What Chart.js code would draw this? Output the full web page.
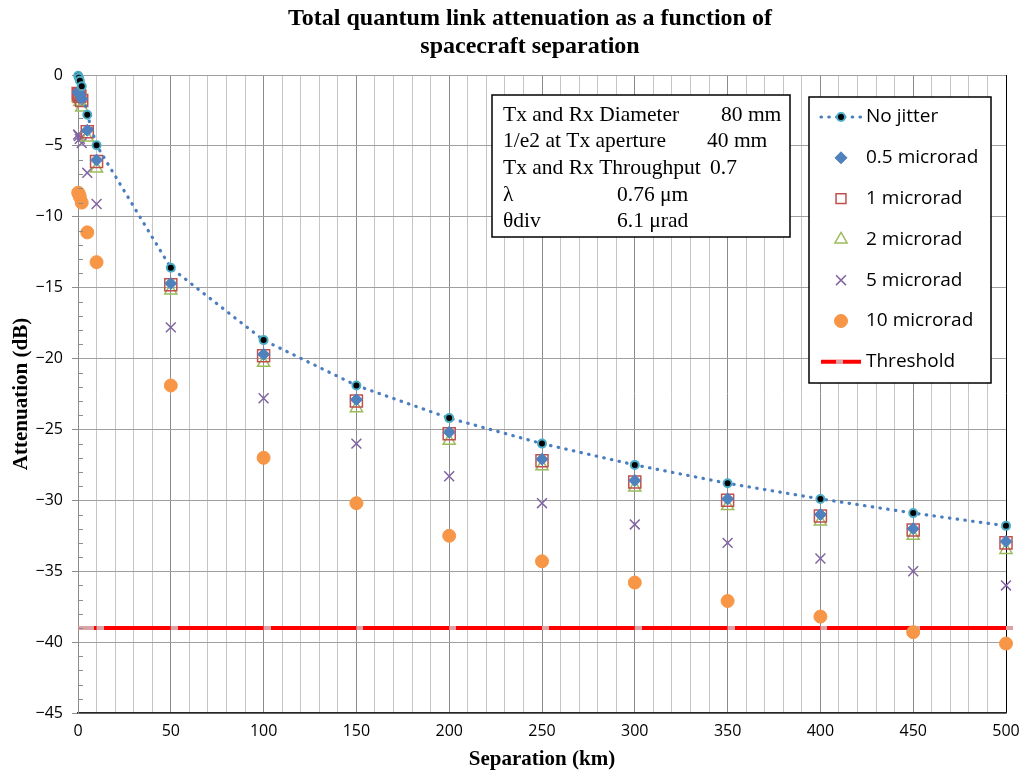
<!DOCTYPE html>
<html lang="en">
<head>
    <meta charset="UTF-8">
    <title>Total quantum link attenuation</title>
    <script src="https://cdn.jsdelivr.net/npm/chart.js"></script>
    <style>
        html, body { margin: 0; padding: 0; background: #fff; }
        .chart-wrap { width: 1020px; height: 772px; }
    </style>
</head>
<body>
    <div class="chart-wrap"><canvas id="attenuationChart" width="1020" height="772"></canvas></div>

    <script>
        // Separation (km) of each sample, and attenuation (dB) for each jitter level
        const separationKm = [0.1, 0.5, 1, 2, 5, 10, 50, 100, 150, 200, 250, 300, 350, 400, 450, 500];
        const noJitter   = [-0.05, -0.2, -0.4, -0.8, -2.8, -4.95, -13.6, -18.7, -21.9, -24.2, -26.0, -27.5, -28.8, -29.9, -30.9, -31.8];
        const jitter05   = [-1.2, -1.3, -1.4, -1.7, -3.9, -6.0, -14.7, -19.7, -22.9, -25.2, -27.1, -28.6, -29.9, -31.0, -32.0, -32.9];
        const jitter1    = [-1.3, -1.4, -1.5, -1.8, -4.0, -6.1, -14.8, -19.8, -23.0, -25.3, -27.2, -28.7, -30.0, -31.1, -32.1, -33.0];
        const jitter2    = [-1.6, -1.7, -1.9, -2.3, -4.4, -6.6, -15.2, -20.3, -23.5, -25.8, -27.6, -29.1, -30.4, -31.5, -32.5, -33.5];
        const jitter5    = [-4.2, -4.3, -4.5, -4.8, -6.9, -9.1, -17.8, -22.8, -26.0, -28.3, -30.2, -31.7, -33.0, -34.1, -35.0, -36.0];
        const jitter10   = [-8.3, -8.4, -8.6, -9.0, -11.1, -13.2, -21.9, -27.0, -30.2, -32.5, -34.3, -35.8, -37.1, -38.2, -39.3, -40.1];
        const thresholdDb = [-39, -39, -39, -39, -39, -39, -39, -39, -39, -39, -39, -39, -39, -39, -39, -39];

        const seriesNames = ['No jitter', '0.5 microrad', '1 microrad', '2 microrad', '5 microrad', '10 microrad', 'Threshold'];
        const titleLines = ['Total quantum link attenuation as a function of', 'spacecraft separation'];
        const paramLabels = ['Tx and Rx Diameter', '1/e2 at Tx aperture', 'Tx and Rx Throughput', '\u03bb', '\u03b8div'];
        const paramValues = ['80 mm', '40 mm', '0.7', '0.76 \u03bcm', '6.1 \u03bcrad'];

        function toPoints(values) {
            return values.map((y, i) => ({ x: separationKm[i], y: y }));
        }

        // threshold marker: short light dash sitting just right of the point
        const dashMarker = document.createElement('canvas');
        dashMarker.width = 14;
        dashMarker.height = 4;
        const dm = dashMarker.getContext('2d');
        dm.fillStyle = '#dba3a6';
        dm.fillRect(7, 0, 7, 4);

        const datasets = [
            {
                label: seriesNames[0], data: toPoints(noJitter), showLine: true,
                borderColor: '#4a7ebf', borderWidth: 3.2, borderDash: [0.5, 7.3], borderCapStyle: 'round',
                pointStyle: 'circle', pointRadius: 4, pointBackgroundColor: '#000', pointBorderColor: '#4bacc6', pointBorderWidth: 2
            },
            {
                label: seriesNames[1], data: toPoints(jitter05), showLine: false,
                pointStyle: 'rectRot', pointRadius: 6, pointBackgroundColor: '#4f81bd', pointBorderColor: '#4f81bd', pointBorderWidth: 1
            },
            {
                label: seriesNames[2], data: toPoints(jitter1), showLine: false,
                pointStyle: 'rect', pointRadius: 8.5, pointBackgroundColor: 'rgba(0,0,0,0)', pointBorderColor: '#c0504d', pointBorderWidth: 1.5
            },
            {
                label: seriesNames[3], data: toPoints(jitter2), showLine: false,
                pointStyle: 'triangle', pointRadius: 7, pointBackgroundColor: 'rgba(0,0,0,0)', pointBorderColor: '#9bbb59', pointBorderWidth: 1.5
            },
            {
                label: seriesNames[4], data: toPoints(jitter5), showLine: false,
                pointStyle: 'crossRot', pointRadius: 7, pointBackgroundColor: '#8064a2', pointBorderColor: '#8064a2', pointBorderWidth: 1.5
            },
            {
                label: seriesNames[5], data: toPoints(jitter10), showLine: false,
                pointStyle: 'circle', pointRadius: 6.5, pointBackgroundColor: '#f79646', pointBorderColor: '#f79646', pointBorderWidth: 1
            },
            {
                label: seriesNames[6], data: toPoints(thresholdDb), showLine: true,
                borderColor: '#ff0000', borderWidth: 4,
                pointStyle: dashMarker, pointRadius: 5, pointBackgroundColor: '#dba3a6', pointBorderColor: '#dba3a6', pointBorderWidth: 0
            }
        ];
        datasets.forEach(ds => { ds.clip = false; });

        // title, parameter box, legend and minor ticks
        const overlayPlugin = {
            id: 'overlay',
            afterDatasetsDraw(chart) {
                const ctx = chart.ctx;
                const yScale = chart.scales.y;
                const left = chart.chartArea.left;

                ctx.save();
                // minor ticks on the y axis, pointing inward
                ctx.strokeStyle = '#8c8c8c';
                ctx.lineWidth = 1;
                for (let v = -44; v < 0; v++) {
                    if (v % 5 === 0) continue;
                    const py = Math.round(yScale.getPixelForValue(v)) + 0.5;
                    ctx.beginPath();
                    ctx.moveTo(left, py);
                    ctx.lineTo(left + 5, py);
                    ctx.stroke();
                }

                // title
                ctx.fillStyle = '#000';
                ctx.font = 'bold 24px "Liberation Serif"';
                ctx.textAlign = 'center';
                ctx.textBaseline = 'middle';
                ctx.fillText(titleLines[0], 530, 19);
                ctx.fillText(titleLines[1], 530, 47);

                // parameter box
                ctx.fillStyle = '#fff';
                ctx.fillRect(492, 95, 298, 142);
                ctx.strokeStyle = '#000';
                ctx.lineWidth = 1.5;
                ctx.strokeRect(492, 95, 298, 142);
                ctx.fillStyle = '#000';
                ctx.font = '21.5px "Liberation Serif"';
                ctx.textAlign = 'left';
                const valueX = [721, 707, 710, 617, 617];
                paramLabels.forEach((t, i) => {
                    const py = 115 + i * 26.7;
                    ctx.fillText(t, 503, py);
                    ctx.fillText(paramValues[i], valueX[i], py);
                });

                // legend
                ctx.fillStyle = '#fff';
                ctx.fillRect(809, 97, 182, 286);
                ctx.strokeStyle = '#000';
                ctx.lineWidth = 1.5;
                ctx.strokeRect(809, 97, 182, 286);
                ctx.font = '19px "Open Sans"';
                chart.data.datasets.forEach((ds, i) => {
                    const py = 117 + i * 40.8;
                    const sx = 841;
                    if (ds.showLine) {
                        ctx.save();
                        ctx.strokeStyle = ds.borderColor;
                        ctx.lineWidth = ds.borderWidth;
                        ctx.lineCap = ds.borderCapStyle || 'butt';
                        ctx.setLineDash(ds.borderDash || []);
                        ctx.beginPath();
                        ctx.moveTo(821, py);
                        ctx.lineTo(861, py);
                        ctx.stroke();
                        ctx.restore();
                    }
                    ctx.save();
                    ctx.fillStyle = ds.pointBackgroundColor;
                    ctx.strokeStyle = ds.pointBorderColor;
                    ctx.lineWidth = ds.pointBorderWidth;
                    const legendRadius = ds.pointStyle === 'rect' ? 7 : ds.pointRadius;
                    Chart.helpers.drawPoint(ctx, {
                        pointStyle: ds.pointStyle, rotation: 0,
                        radius: legendRadius, borderWidth: ds.pointBorderWidth
                    }, ds.pointStyle === dashMarker ? sx - 5 : sx, py);
                    ctx.restore();
                    ctx.fillStyle = '#000';
                    ctx.textAlign = 'left';
                    ctx.fillText(ds.label, 866, py);
                });
                ctx.restore();
            }
        };

        const config = {
            type: 'scatter',
            data: { datasets: datasets },
            options: {
                responsive: false,
                animation: false,
                layout: { padding: { top: 75, right: 14, left: 0, bottom: 0 } },
                plugins: {
                    legend: { display: false },
                    tooltip: { enabled: false },
                    title: { display: false }
                },
                scales: {
                    x: {
                        type: 'linear', min: 0, max: 500,
                        afterFit: s => { s.height = 59; s.paddingLeft = 0; s.paddingRight = 0; },
                        ticks: {
                            stepSize: 10, autoSkip: false, maxRotation: 0, padding: 9,
                            color: '#000', font: { family: 'Open Sans', size: 16 },
                            callback: v => (v % 50 === 0 ? String(v) : '')
                        },
                        grid: {
                            drawTicks: false,
                            color: c => {
                                const v = c.tick ? c.tick.value : 0;
                                if (v === 500) return '#000';
                                return v % 50 === 0 ? '#8c8c8c' : '#c6c6c6';
                            }
                        },
                        border: { color: '#262626', width: 1.5 },
                        title: {
                            display: true, text: 'Separation (km)', color: '#000',
                            font: { family: 'Liberation Serif', size: 21, weight: 'bold' },
                            padding: { top: 4, bottom: 0 }
                        }
                    },
                    y: {
                        type: 'linear', min: -45, max: 0,
                        afterFit: s => { s.width = 78; s.paddingTop = 0; s.paddingBottom = 0; },
                        ticks: {
                            stepSize: 5, padding: 9, color: '#000',
                            font: { family: 'Open Sans', size: 16 },
                            callback: v => (v < 0 ? '\u2212' + Math.abs(v) : String(v))
                        },
                        grid: { color: '#a0a0a0', tickColor: '#8c8c8c', tickLength: 6, drawTicks: true },
                        border: { color: '#8c8c8c', width: 1 },
                        title: {
                            display: true, text: 'Attenuation (dB)', color: '#000',
                            font: { family: 'Liberation Serif', size: 21, weight: 'bold' },
                            padding: { top: 9, bottom: 0 }
                        }
                    }
                }
            },
            plugins: [overlayPlugin]
        };

        const attenuationChart = new Chart(document.getElementById('attenuationChart'), config);
    </script>
</body>
</html>
